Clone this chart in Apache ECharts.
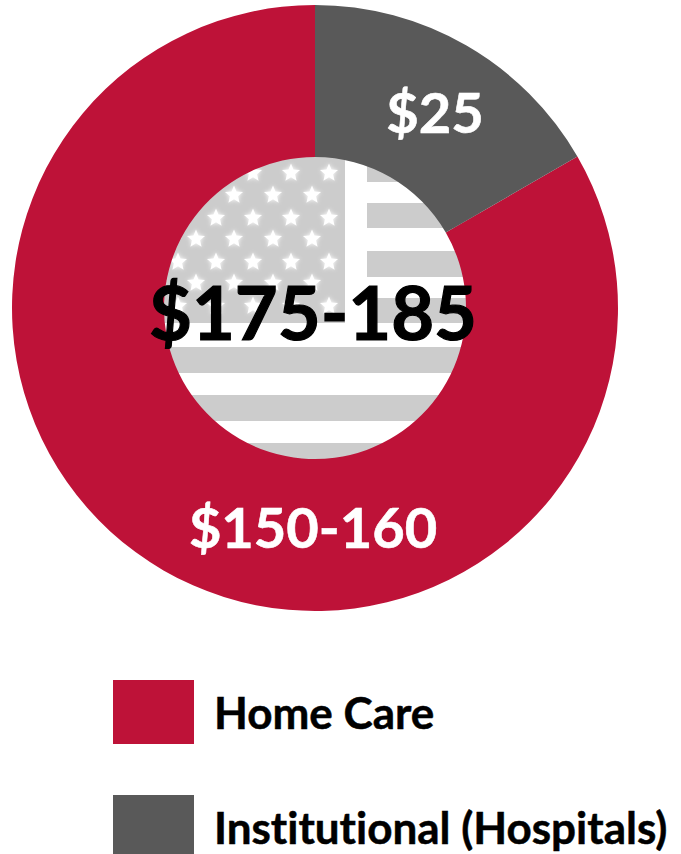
<!DOCTYPE html>
<html><head><meta charset="utf-8">
<style>html,body{margin:0;padding:0;background:#fff}#c{width:681px;height:854px;font-variant-ligatures:none;font-feature-settings:"liga" 0,"clig" 0}</style>
<script src="https://cdn.jsdelivr.net/npm/echarts@6/dist/echarts.min.js"></script>
</head><body><div id="c"></div>
<script>
const categories = ['Home Care', 'Institutional (Hospitals)'];
const sliceValues = [150, 30];
const sliceLabels = ['$150-160', '$25'];
const totalLabel = '$175-185';
const colors = ['#BE1238', '#595959'];

const FONT = 'Lato, "Open Sans", sans-serif';
const FLAG_GREY = '#cccccc';

function starPoints(cx, cy, R) {
  const pts = [], r = R * 0.45;
  for (let i = 0; i < 10; i++) {
    const a = -Math.PI / 2 + i * Math.PI / 5, q = i % 2 ? r : R;
    pts.push([cx + q * Math.cos(a), cy + q * Math.sin(a)]);
  }
  return pts;
}
const flag = [];
// stripes (decorative backdrop, the ring covers anything outside the hole)
[[155, 27, 367], [203, 25, 367], [251, 26, 367], [298, 25, 367], [347, 26, 150], [395, 26, 150], [443, 26, 150]]
  .forEach(s => flag.push({type: 'rect', z: -1, shape: {x: s[2], y: s[0], width: 480 - s[2], height: s[1]}, style: {fill: FLAG_GREY}}));
flag.push({type: 'rect', z: -1, shape: {x: 150, y: 150, width: 195, height: 173}, style: {fill: FLAG_GREY}});
[[173, 0], [195, 1], [218, 0], [239, 1], [262, 0], [283, 1], [306, 0]].forEach(row => {
  const xs = row[1] ? [158, 196, 234, 273, 312] : [178, 216, 253, 291, 329];
  xs.forEach(x => flag.push({
    type: 'polygon', z: 0, shape: {points: starPoints(x, row[0], 9.5)},
    style: {fill: '#ffffff', shadowBlur: 4, shadowColor: '#ffffff'}
  }));
});

const labelPlaces = [{x: 313, y: 526}, {x: 435, y: 111}];

const chart = echarts.init(document.getElementById('c'), null, {renderer: 'svg'});
chart.setOption({
  animation: false,
  backgroundColor: '#ffffff',
  color: colors,
  graphic: {elements: flag},
  title: {
    text: totalLabel, left: 308, top: 269, textAlign: 'center', z: 10,
    textStyle: {color: '#000', fontFamily: FONT, fontWeight: 'bold', fontSize: 74, textBorderColor: '#000', textBorderWidth: 1.2}
  },
  legend: {
    orient: 'vertical', left: 108, top: 675, height: 400, icon: 'rect',
    itemWidth: 81, itemHeight: 64, itemGap: 51, selectedMode: false,
    data: categories,
    textStyle: {color: '#000', fontFamily: FONT, fontWeight: 'bold', fontSize: 44, padding: [2, 0, 0, 15], textBorderColor: '#000', textBorderWidth: 0.5}
  },
  series: [{
    type: 'pie', z: 2, center: [315, 308], radius: [151, 303], startAngle: 30, clockwise: true,
    silent: true, avoidLabelOverlap: false,
    data: categories.map((name, i) => ({
      name, value: sliceValues[i], itemStyle: {color: colors[i]},
      label: {formatter: sliceLabels[i]}
    })),
    label: {show: true, position: 'inside', color: '#fff', fontFamily: FONT, fontWeight: 'bold', fontSize: 56, textBorderColor: '#fff', textBorderWidth: 0.6},
    labelLine: {show: false},
    labelLayout: p => ({x: labelPlaces[p.dataIndex].x, y: labelPlaces[p.dataIndex].y, align: 'center', verticalAlign: 'middle'})
  }]
});
</script></body></html>
